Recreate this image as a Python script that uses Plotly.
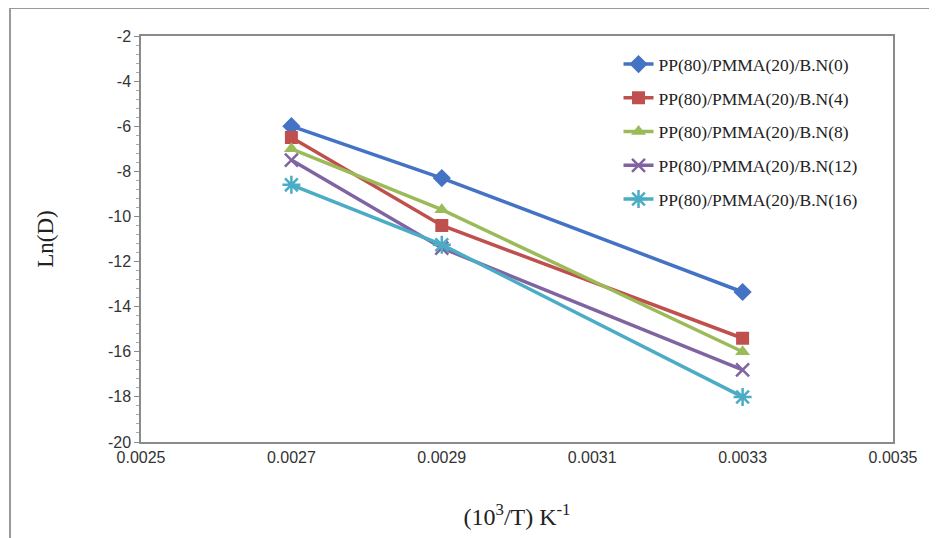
import plotly.graph_objects as go

x_vals = [0.0027, 0.0029, 0.0033]
names = ["PP(80)/PMMA(20)/B.N(0)", "PP(80)/PMMA(20)/B.N(4)", "PP(80)/PMMA(20)/B.N(8)",
         "PP(80)/PMMA(20)/B.N(12)", "PP(80)/PMMA(20)/B.N(16)"]
bn0 = [-6.0, -8.3, -13.35]
bn4 = [-6.5, -10.4, -15.4]
bn8 = [-7.0, -9.7, -16.0]
bn12 = [-7.5, -11.4, -16.8]
bn16 = [-8.6, -11.25, -18.0]
series = [bn0, bn4, bn8, bn12, bn16]
colors = ["#4472C4", "#C0504D", "#9BBB59", "#8064A2", "#4BACC6"]
symbols = ["diamond", "square", "triangle-up", "x-thin", "asterisk"]
msizes = [14, 13, 13, 13, 15]
x_ticks = [0.0025, 0.0027, 0.0029, 0.0031, 0.0033, 0.0035]
y_ticks = [-2, -4, -6, -8, -10, -12, -14, -16, -18, -20]

fig = go.Figure()
for i, (nm, ys) in enumerate(zip(names, series)):
    mk = dict(symbol=symbols[i], size=msizes[i], color=colors[i])
    if symbols[i] in ("x-thin", "asterisk"):
        mk["line"] = dict(color=colors[i], width=2.5)
    fig.add_trace(go.Scatter(
        x=x_vals, y=ys, name=nm, mode="lines+markers",
        line=dict(color=colors[i], width=3.5),
        marker=mk, legendgroup=f"g{i}"))

# the page places the figure 8px in from the top-left corner
L, R, T, B = 133, 52, 28, 104
W, H = 937, 538
fig.update_layout(
    width=W, height=H,
    margin=dict(l=L, r=R, t=T, b=B),
    paper_bgcolor="white", plot_bgcolor="white",
    showlegend=True,
    legend=dict(x=0.635, y=0.975, xanchor="left", yanchor="top",
                font=dict(family="Liberation Serif", size=17.5, color="#222"),
                tracegroupgap=8, bgcolor="rgba(0,0,0,0)"),
    xaxis=dict(range=[0.0025, 0.0035], tickvals=x_ticks,
               ticktext=[f"{v:.4f}" for v in x_ticks],
               showgrid=False, zeroline=False, showline=True, linecolor="#8a8a8a",
               linewidth=1.5, mirror=True, ticks="", automargin=False,
               tickfont=dict(family="Liberation Sans", size=16, color="#333"),
               title=dict(text="(10<sup>3</sup>/T) K<sup>-1</sup>", standoff=43,
                          font=dict(family="Liberation Serif", size=24, color="#222"))),
    yaxis=dict(range=[-20, -2], tickvals=y_ticks, ticktext=[str(v) for v in y_ticks],
               showgrid=False, zeroline=False, showline=True, linecolor="#8a8a8a",
               linewidth=1.5, mirror=True, ticks="outside", ticklen=5, tickcolor="#8a8a8a",
               automargin=False,
               minor=dict(ticks="outside", dtick=0.4, ticklen=3, tickcolor="#aaaaaa"),
               tickfont=dict(family="Liberation Sans", size=16, color="#333"),
               title=dict(text="Ln(D)", standoff=48,
                          font=dict(family="Liberation Serif", size=23, color="#222"))),
)

# outer scanned frame lines (paper coords)
pw, ph = W - L - R, H - T - B
def px(xp):
    return (xp - L) / pw
def py(yp):
    return (H - B - yp) / ph
fig.add_shape(type="line", xref="paper", yref="paper", x0=px(2), x1=px(2), y0=py(0), y1=py(H),
              line=dict(color="#9a9a9a", width=2))
fig.add_shape(type="line", xref="paper", yref="paper", x0=px(2), x1=px(W), y0=py(0), y1=py(0),
              line=dict(color="#9a9a9a", width=2))

fig.write_html("out.html")
